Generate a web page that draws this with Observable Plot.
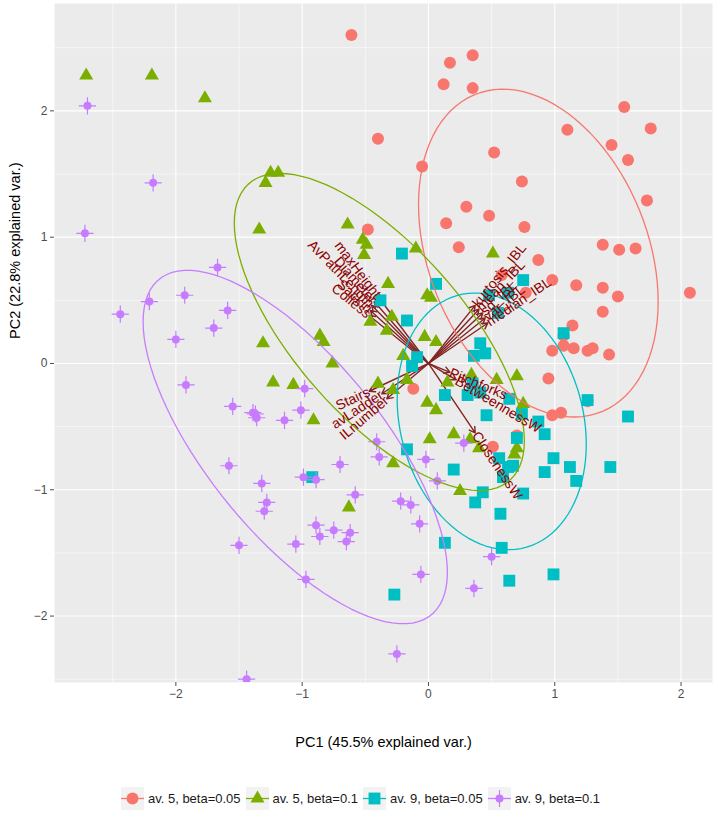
<!DOCTYPE html>
<html><head><meta charset="utf-8">
<script src="https://cdn.jsdelivr.net/npm/d3@7"></script>
<script src="https://cdn.jsdelivr.net/npm/@observablehq/plot@0.6"></script>
<style>
body{margin:0;background:#fff;font-family:"Liberation Sans",Arial,sans-serif;}
#legend{display:flex;justify-content:center;align-items:center;margin-top:17px;height:23px;font-size:13px;color:#1a1a1a;}
.item{display:flex;align-items:center;margin:0 2.5px;}
.item svg{margin-right:4px;display:block;}
</style></head><body><div id="chart"></div><div id="legend"></div>
<script>
const groups = ["av. 5, beta=0.05","av. 5, beta=0.1","av. 9, beta=0.05","av. 9, beta=0.1"];
const colors = ["#F8766D","#7CAE00","#00BFC4","#C77CFF"];
const xTicks = [-2,-1,0,1,2];
const yTicks = [-2,-1,0,1,2];
const xLabel = "PC1 (45.5% explained var.)";
const yLabel = "PC2 (22.8% explained var.)";

const pts_av5_b005 = [[0.17,2.38],[0.35,2.44],[0.12,2.21],[0.35,2.18],[1.55,2.03],[1.76,1.86],[1.10,1.85],[1.45,1.73],[1.58,1.61],[0.52,1.67],[-0.05,1.56],[0.74,1.44],[1.73,1.29],[0.30,1.24],[0.48,1.17],[0.14,1.11],[0.76,1.08],[0.24,0.92],[1.38,0.94],[1.51,0.90],[1.64,0.91],[0.87,0.82],[0.58,0.70],[0.98,0.66],[1.17,0.62],[1.38,0.60],[1.50,0.53],[2.07,0.56],[0.77,0.56],[1.38,0.41],[1.14,0.30],[0.98,0.10],[1.07,0.14],[1.15,0.12],[1.26,0.10],[1.30,0.12],[1.43,0.07],[1.07,0.22],[0.95,-0.12],[0.98,-0.41],[1.05,-0.39],[1.26,-0.30],[0.51,-0.66],[0.70,-0.57],[-0.12,-0.20],[-0.40,1.78],[-0.61,2.60],[-0.48,1.06]];
const pts_av5_b01 = [[-2.71,2.28],[-2.19,2.28],[-1.77,2.10],[-1.25,1.51],[-1.19,1.51],[-1.29,1.43],[-1.34,1.06],[-0.64,1.10],[-0.52,0.98],[-0.49,0.94],[-0.51,0.86],[-0.10,0.91],[0.51,0.87],[-0.32,0.63],[-0.01,0.54],[0.02,0.52],[-0.46,0.33],[-0.29,0.37],[-0.33,0.26],[-0.86,0.22],[-0.83,0.17],[-0.76,0.00],[-0.03,0.21],[0.06,0.17],[-0.20,0.06],[-1.31,0.16],[-1.23,-0.15],[-1.07,-0.17],[-0.91,-0.45],[-0.40,-0.16],[-0.28,-0.21],[-0.17,-0.13],[0.15,-0.15],[0.34,-0.09],[0.54,-0.13],[0.70,-0.10],[-0.01,-0.31],[0.06,-0.37],[0.01,-0.60],[0.20,-0.56],[0.33,-0.60],[0.40,-0.67],[0.70,-0.67],[0.68,-0.72],[0.75,-0.32],[-0.28,-0.79],[0.25,-1.01],[-0.63,-1.14]];
const pts_av9_b005 = [[-0.21,0.87],[0.06,0.63],[-0.38,0.50],[-0.17,0.34],[0.48,0.54],[0.63,0.56],[0.75,0.66],[0.55,0.40],[-0.09,0.05],[-0.13,-0.02],[0.41,0.16],[0.36,0.06],[0.45,0.08],[0.35,-0.16],[0.41,-0.23],[0.13,-0.25],[0.31,-0.25],[0.64,-0.28],[0.46,-0.41],[0.74,-0.40],[0.87,-0.46],[0.92,-0.56],[0.70,-0.59],[-0.17,-0.68],[0.20,-0.84],[0.99,-0.75],[0.92,-0.86],[0.56,-0.75],[0.63,-0.82],[0.67,-0.81],[0.59,-0.90],[0.43,-1.02],[0.37,-1.10],[0.75,-1.03],[0.57,-1.19],[-0.92,-0.90],[1.07,0.24],[1.26,-0.29],[1.58,-0.42],[1.12,-0.82],[1.17,-0.93],[1.44,-0.82],[0.13,-1.42],[0.58,-1.46],[0.99,-1.67],[0.64,-1.72],[-0.27,-1.83]];
const pts_av9_b01 = [[-2.70,2.04],[-2.18,1.43],[-2.72,1.03],[-1.67,0.76],[-2.21,0.49],[-1.93,0.54],[-2.44,0.39],[-1.59,0.42],[-1.70,0.28],[-2.00,0.19],[-1.92,-0.17],[-1.55,-0.34],[-1.39,-0.39],[-1.36,-0.43],[-1.37,-0.40],[-1.14,-0.45],[-1.01,-0.37],[-0.98,-0.20],[-1.58,-0.81],[-1.32,-0.95],[-1.28,-1.10],[-1.30,-1.17],[-1.50,-1.44],[-1.05,-1.43],[-0.97,-1.71],[-0.99,-0.90],[-0.89,-0.92],[-0.89,-1.28],[-0.86,-1.37],[-0.75,-1.32],[-0.62,-1.34],[-0.65,-1.41],[-0.70,-0.80],[-0.58,-1.04],[-0.41,-0.62],[-0.39,-0.74],[-0.22,-1.09],[-0.14,-1.12],[-0.07,-1.27],[-0.02,-0.76],[0.07,-0.93],[-0.06,-1.67],[-0.25,-2.30],[-1.44,-2.50],[0.28,-0.63],[0.50,-1.53],[0.36,-1.78]];

const varNames = ["maxHeight","Diameter","AvPathLength","Sackin","Colless","kurtosis_IBL","mean_IBL","sd_IBL","var_IBL","median_IBL","Stairs","avLadder","ILnumber","Pitchforks","BetweennessW","ClosenessW"];
const varX = [-0.40,-0.43,-0.45,-0.46,-0.47, 0.37,0.40,0.43,0.45,0.47, -0.47,-0.37,-0.33, 0.17,0.22,0.37];
const varY = [0.53,0.49,0.46,0.42,0.38, 0.46,0.43,0.40,0.36,0.32, -0.22,-0.24,-0.28, -0.07,-0.13,-0.55];

const allPts = [pts_av5_b005, pts_av5_b01, pts_av9_b005, pts_av9_b01];
const rows = allPts.map((p, i) => p.map(([x, y]) => ({g: groups[i], x, y})));
const vars = varNames.map((name, i) => ({name, x: varX[i], y: varY[i]}));

// normal-data ellipse (ggbiplot, ellipse.prob = 0.68)
function ellipse(p, g) {
  const n = p.length;
  const mx = d3.mean(p, d => d[0]), my = d3.mean(p, d => d[1]);
  let a = 0, b = 0, c = 0;
  for (const [x, y] of p) { a += (x-mx)*(x-mx); b += (x-mx)*(y-my); c += (y-my)*(y-my); }
  a /= n-1; b /= n-1; c /= n-1;
  const r11 = Math.sqrt(a), r12 = b / r11, r22 = Math.sqrt(c - r12*r12);
  const ed = Math.sqrt(-2 * Math.log(1 - 0.68));
  const out = [];
  for (let k = 0; k <= 100; k++) {
    const t = 2 * Math.PI * k / 100, u = Math.cos(t), v = Math.sin(t);
    out.push({g, x: mx + ed*u*r11, y: my + ed*(u*r12 + v*r22)});
  }
  return out;
}
const ellipses = allPts.map((p, i) => ellipse(p, groups[i]));

const majorX = xTicks, minorX = [-2.5,-1.5,-0.5,0.5,1.5];
const majorY = yTicks, minorY = [-2.5,-1.5,-0.5,0.5,1.5,2.5];
const ang = d => -Math.atan(d.y / d.x) * 180 / Math.PI;
const fmt = d => d < 0 ? "\u2212" + (-d) : String(d);
const PLUS_R = 5.6;

const chart = Plot.plot({
  width: 721, height: 770,
  marginLeft: 54, marginRight: 9, marginTop: 3, marginBottom: 88,
  style: {fontFamily: '"Liberation Sans", Arial, sans-serif', background: "#fff"},
  x: {domain: [-2.961, 2.249]},
  y: {domain: [-2.526, 2.85]},
  marks: [
    Plot.frame({fill: "#EBEBEB", stroke: "none"}),
    Plot.ruleX(minorX, {stroke: "#fff", strokeWidth: 0.55}),
    Plot.ruleY(minorY, {stroke: "#fff", strokeWidth: 0.55}),
    Plot.ruleX(majorX, {stroke: "#fff", strokeWidth: 1.1}),
    Plot.ruleY(majorY, {stroke: "#fff", strokeWidth: 1.1}),
    Plot.axisX({ticks: xTicks, tickFormat: fmt, tickSize: 4, tickPadding: 3, fontSize: 12, color: "#4D4D4D", label: null}),
    Plot.axisY({ticks: yTicks, tickFormat: fmt, tickSize: 4, tickPadding: 3, fontSize: 12, color: "#4D4D4D", label: null}),
    Plot.arrow(vars, {x1: () => 0, y1: () => 0, x2: "x", y2: "y", stroke: "#832424", strokeWidth: 1.4, headLength: 7, headAngle: 60, bend: 0}),
    Plot.dot(rows[0], {x: "x", y: "y", r: 6, symbol: "circle", fill: colors[0], stroke: "none", clip: true}),
    Plot.dot(rows[1], {x: "x", y: "y", r: 5.2, symbol: "triangle", fill: colors[1], stroke: "none", clip: true}),
    Plot.dot(rows[2], {x: "x", y: "y", r: 6.7, symbol: "square", fill: colors[2], stroke: "none", clip: true}),
    Plot.dot(rows[3], {x: "x", y: "y", r: PLUS_R, symbol: "plus", stroke: colors[3], strokeWidth: 1.2, fill: "none", clip: true}),
    Plot.dot(rows[3], {x: "x", y: "y", r: 4, symbol: "circle", fill: colors[3], stroke: "none", clip: true}),
    ...ellipses.map((e, i) => Plot.line(e, {x: "x", y: "y", stroke: colors[i], strokeWidth: 1.3, clip: true})),
    Plot.text(vars.filter(d => d.x > 0), {x: "x", y: "y", text: "name", rotate: ang, textAnchor: "start", fill: "darkred", fontSize: 14}),
    Plot.text(vars.filter(d => d.x < 0), {x: "x", y: "y", text: "name", rotate: ang, textAnchor: "end", fill: "darkred", fontSize: 14}),
    Plot.text([xLabel], {text: d => d, frameAnchor: "bottom", dy: 64, fontSize: 14.5, fill: "black"}),
    Plot.text([yLabel], {text: d => d, frameAnchor: "left", dx: -39, dy: -4, rotate: -90, fontSize: 14.5, fill: "black"})
  ]
});
document.getElementById("chart").appendChild(chart);

// legend
const legend = document.getElementById("legend");
groups.forEach((g, i) => {
  const item = document.createElement("div");
  item.className = "item";
  const svg = d3.create("svg").attr("width", 23).attr("height", 23);
  svg.append("rect").attr("width", 23).attr("height", 23).attr("fill", "#F2F2F2");
  svg.append("line").attr("x1", 0).attr("x2", 23).attr("y1", 11.5).attr("y2", 11.5).attr("stroke", colors[i]).attr("stroke-width", 1.3);
  const sym = [d3.symbolCircle, d3.symbolTriangle, d3.symbolSquare, d3.symbolPlus][i];
  const r = [6, 5.2, 6.7, PLUS_R][i];
  const path = svg.append("path").attr("transform", "translate(11.5,11.5)").attr("d", d3.symbol(sym, Math.PI * r * r)());
  if (i === 3) {
    path.attr("fill", "none").attr("stroke", colors[i]).attr("stroke-width", 1.2);
    svg.append("circle").attr("cx", 11.5).attr("cy", 11.5).attr("r", 4).attr("fill", colors[i]);
  } else path.attr("fill", colors[i]);
  item.appendChild(svg.node());
  const span = document.createElement("span");
  span.textContent = g;
  item.appendChild(span);
  legend.appendChild(item);
});
</script></body></html>
